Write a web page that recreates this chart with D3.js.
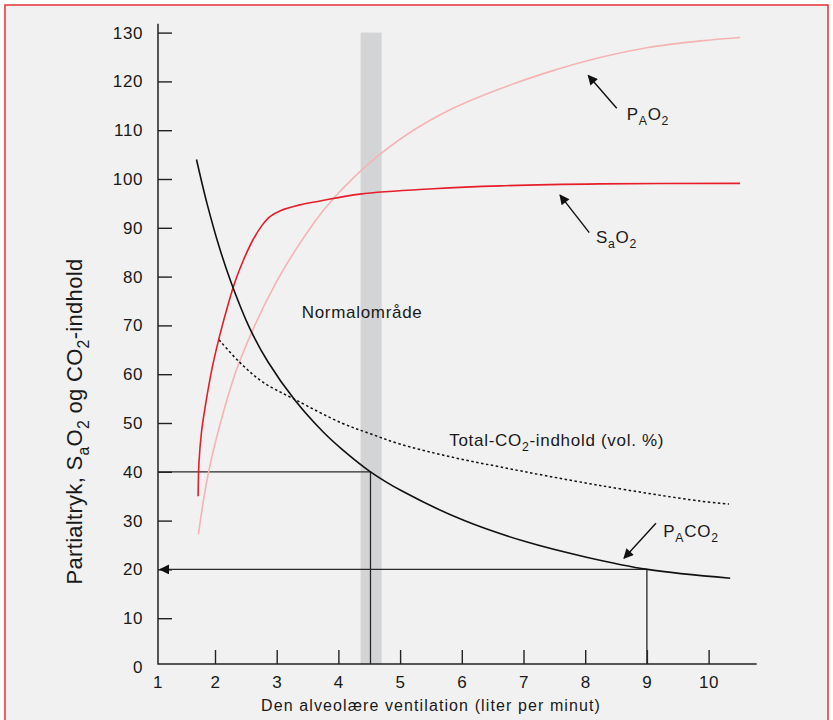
<!DOCTYPE html>
<html>
<head>
<meta charset="utf-8">
<script src="https://cdn.jsdelivr.net/npm/d3@7"></script>
<style>
  body { margin: 0; background: #fff; }
  text { font-family: "Liberation Sans", Arial, Helvetica, sans-serif; fill: #1a1a1a; }
  .axis line { stroke: #222; stroke-width: 1.4; }
  .axis text { font-size: 17px; letter-spacing: 0.6px; }
</style>
</head>
<body>
<svg id="chart" width="833" height="720"></svg>
<script>
// ventilation (l/min) on x, values on y
var paco2V = [1.70, 1.87, 2.07, 2.27, 2.56, 2.86, 3.30, 3.75, 4.05, 4.52, 5.04, 6.04, 7.03, 8.02, 9.01, 10.35];
var paco2Y = [104, 95, 86, 78.5, 69.5, 62.5, 54.6, 48.2, 44.7, 40, 36, 30, 25.7, 22.5, 20, 18.2];

var sao2V = [1.726, 1.741, 1.780, 1.850, 1.949, 2.078, 2.217, 2.326, 2.465, 2.614, 2.762, 2.891, 3.06, 3.377, 3.705, 4.35, 5.54, 6.62, 8.24, 10.51];
var sao2Y = [35, 42, 48, 54, 61, 68, 74.5, 79, 83.5, 87.5, 90.5, 92.3, 93.5, 94.7, 95.5, 96.9, 98, 98.6, 99, 99.1];

var pao2V = [1.731, 1.890, 2.138, 2.395, 3.0, 3.625, 3.913, 4.35, 4.687, 5.242, 5.808, 6.621, 7.4, 8.238, 9.0, 9.865, 10.509];
var pao2Y = [27.2, 39.6, 52.3, 62.5, 79, 91.4, 95.9, 101.5, 105.2, 110.2, 114.2, 118.5, 121.9, 124.9, 126.9, 128.3, 129];

var totalCo2V = [2.068, 2.395, 2.762, 3.298, 4.052, 4.518, 4.994, 5.738, 6.621, 8.238, 9.865, 10.33];
var totalCo2Y = [67, 62.5, 58.5, 54.8, 50, 47.8, 45.7, 43.3, 41, 37.2, 34, 33.4];

var xTicks = [1, 2, 3, 4, 5, 6, 7, 8, 9, 10];
var yTicks = [0, 10, 20, 30, 40, 50, 60, 70, 80, 90, 100, 110, 120, 130];

var normalBand = [4.36, 4.70];
var normalPoint = [4.52, 40];  // normal ventilation -> PaCO2 40
var doublePoint = [9, 20];     // doubled ventilation -> PaCO2 20

var svg = d3.select("#chart");

// frame
svg.append("rect")
   .attr("x", 5).attr("y", 5)
   .attr("width", 823).attr("height", 730)
   .attr("fill", "#f1f1f1")
   .attr("stroke", "#e5323a")
   .attr("stroke-width", 1.5);

var x = d3.scaleLinear().domain([2, 10]).range([215, 708.6]);
var y = d3.scaleLinear().domain([0, 130]).range([667, 32.6]);

// the axes cross a little inside the 0/1 values
var originX = 158, originY = 664;
var xEnd = x(10.78), yTop = y(131.8);

var defs = svg.append("defs");
defs.append("marker")
    .attr("id", "arrow")
    .attr("viewBox", "0 0 10 10")
    .attr("refX", 9).attr("refY", 5)
    .attr("markerWidth", 12).attr("markerHeight", 10)
    .attr("markerUnits", "userSpaceOnUse")
    .attr("orient", "auto")
  .append("path")
    .attr("d", "M0,0 L10,5 L0,10 Z")
    .attr("fill", "#111");

// grey "normal" band
svg.append("rect")
   .attr("x", x(normalBand[0]))
   .attr("y", y(130))
   .attr("width", x(normalBand[1]) - x(normalBand[0]))
   .attr("height", originY - y(130))
   .attr("fill", "#d3d4d6");

// axes
var xAxis = d3.axisBottom(x).tickValues(xTicks).tickSizeInner(-14).tickSizeOuter(0).tickPadding(12);
var yAxis = d3.axisLeft(y).tickValues(yTicks).tickSizeInner(-14).tickSizeOuter(0).tickPadding(15);

var gx = svg.append("g").attr("class", "axis")
   .attr("transform", "translate(0," + originY + ")")
   .call(xAxis);
gx.select(".domain").remove();
gx.selectAll("text").attr("fill", "#1a1a1a");
gx.selectAll(".tick").filter(function(d){ return d === 1; })
  .attr("transform", "translate(" + originX + ",0)")
  .select("line").remove();

var gy = svg.append("g").attr("class", "axis")
   .attr("transform", "translate(" + originX + ",0)")
   .call(yAxis);
gy.select(".domain").remove();
gy.selectAll("text").attr("fill", "#1a1a1a");
gy.selectAll(".tick").filter(function(d){ return d === 0; })
  .select("line").remove();

svg.append("path")
   .attr("d", "M" + originX + "," + yTop + "V" + originY + "H" + xEnd)
   .attr("fill", "none").attr("stroke", "#222").attr("stroke-width", 1.5);

// reference lines
var refColor = "#2a2a2a";
svg.append("path")
   .attr("d", "M" + originX + "," + y(normalPoint[1]) + "H" + x(normalPoint[0]) + "V" + originY)
   .attr("fill", "none").attr("stroke", refColor).attr("stroke-width", 1.3);
svg.append("path")
   .attr("d", "M" + x(doublePoint[0]) + "," + originY + "V" + y(doublePoint[1]))
   .attr("fill", "none").attr("stroke", refColor).attr("stroke-width", 1.3);
svg.append("line")
   .attr("x1", x(doublePoint[0])).attr("y1", y(doublePoint[1]))
   .attr("x2", originX + 2).attr("y2", y(doublePoint[1]))
   .attr("stroke", refColor).attr("stroke-width", 1.3)
   .attr("marker-end", "url(#arrow)");

// curves
var line = d3.line()
             .x(function(d){ return x(d[0]); })
             .y(function(d){ return y(d[1]); })
             .curve(d3.curveCatmullRom.alpha(0.5));

function zip(a, b) { return a.map(function(v, i){ return [v, b[i]]; }); }

svg.append("path").datum(zip(pao2V, pao2Y))
   .attr("d", line).attr("fill", "none")
   .attr("stroke", "#f6b3b4").attr("stroke-width", 1.6);

svg.append("path").datum(zip(sao2V, sao2Y))
   .attr("d", line).attr("fill", "none")
   .attr("stroke", "#e51e29").attr("stroke-width", 1.6);

svg.append("path").datum(zip(totalCo2V, totalCo2Y))
   .attr("d", line).attr("fill", "none")
   .attr("stroke", "#111").attr("stroke-width", 1.5)
   .attr("stroke-dasharray", "2.5,2.5");

svg.append("path").datum(zip(paco2V, paco2Y))
   .attr("d", line).attr("fill", "none")
   .attr("stroke", "#111").attr("stroke-width", 1.6);

// text with subscripts: parts = [[string, isSub], ...]
function richText(g, parts, size, spacing) {
  var t = g.append("text").attr("font-size", size)
           .style("letter-spacing", (spacing == null ? 0.7 : spacing) + "px");
  var down = false;
  parts.forEach(function(p){
    var s = t.append("tspan").text(p[0]);
    if (p[1] && !down) { s.attr("dy", size * 0.3).attr("font-size", size * 0.72); down = true; }
    else if (p[1]) { s.attr("font-size", size * 0.72); }
    else if (down) { s.attr("dy", -size * 0.3); down = false; }
  });
  return t;
}

function label(v, val, parts, size) {
  return richText(svg, parts, size || 17).attr("x", x(v)).attr("y", y(val));
}

function arrow(from, to) {
  svg.append("line")
     .attr("x1", x(from[0])).attr("y1", y(from[1]))
     .attr("x2", x(to[0])).attr("y2", y(to[1]))
     .attr("stroke", "#111").attr("stroke-width", 1.4)
     .attr("marker-end", "url(#arrow)");
}

label(8.673, 112.1, [["P"], ["A", 1], ["O"], ["2", 1]]);
arrow([8.511, 114.5], [8.05, 121.2]);

label(8.175, 86.9, [["S"], ["a", 1], ["O"], ["2", 1]]);
arrow([8.066, 89.0], [7.592, 96.7]);

label(5.797, 45.35, [["Total-CO"], ["2", 1], ["-indhold (vol. %)"]]);

label(9.266, 26.7, [["P"], ["A", 1], ["CO"], ["2", 1]]);
arrow([9.147, 29.45], [8.629, 22.27]);

label(3.405, 71.45, [["Normalområde"]]);

// axis titles
svg.append("text")
   .attr("x", 431).attr("y", 711)
   .attr("text-anchor", "middle")
   .attr("font-size", 16)
   .style("letter-spacing", "1.1px")
   .text("Den alveolære ventilation (liter per minut)");

richText(svg, [["Partialtryk, S"], ["a", 1], ["O"], ["2", 1], [" og CO"], ["2", 1], ["-indhold"]], 22, 0.3)
   .attr("transform", "translate(82,421.5) rotate(-90)")
   .attr("text-anchor", "middle");
</script>
</body>
</html>
